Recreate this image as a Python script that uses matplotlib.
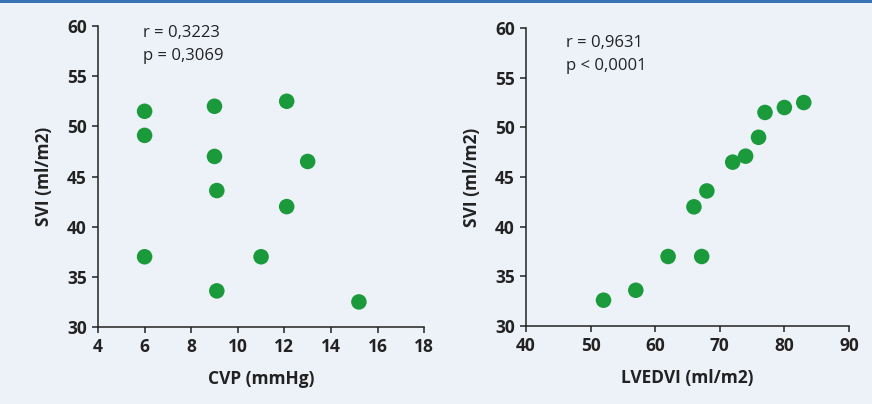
import matplotlib
matplotlib.use('Agg')
from matplotlib import pyplot as plt
from matplotlib.patches import Rectangle

# CVP vs SVI
cvp = [6, 6, 6, 9, 9, 9.1, 9.1, 11, 12.1, 12.1, 13, 15.2]
svi_cvp = [51.5, 49.1, 37, 52, 47, 43.6, 33.6, 37, 52.5, 42, 46.5, 32.5]

# LVEDVI vs SVI
lvedvi = [52, 57, 62, 67.2, 66, 68, 72, 74, 76, 77, 80, 83]
svi_lv = [32.6, 33.6, 37, 37, 42, 43.6, 46.5, 47.1, 49, 51.5, 52, 52.5]

stats_left = ["r = 0,3223", "p = 0,3069"]
stats_right = ["r = 0,9631", "p < 0,0001"]

bg = '#edf1f8'
green = '#1a9a3a'
plt.rcParams['font.family'] = ['Open Sans', 'DejaVu Sans']

fig = plt.figure(figsize=(8.72, 4.04), dpi=100, facecolor=bg)
fig.add_artist(Rectangle((0, 0.993), 1, 0.007, transform=fig.transFigure,
                         color='#3a73b5', lw=0))

ax1 = fig.add_axes([0.1124, 0.1906, 0.374, 0.745])
ax2 = fig.add_axes([0.6032, 0.1930, 0.3704, 0.7376])

def style_ax(ax):
    ax.set_facecolor(bg)
    for s in ['top', 'right']:
        ax.spines[s].set_visible(False)
    for s in ['left', 'bottom']:
        ax.spines[s].set_color('#222222')
        ax.spines[s].set_linewidth(1.1)
    ax.tick_params(direction='out', length=4, width=1.1, colors='#222222',
                   labelsize=12.5, pad=4)
    for lab in ax.get_xticklabels() + ax.get_yticklabels():
        lab.set_fontweight('bold')
    ax.set_ylabel("SVI (ml/m2)", fontsize=12.5, fontweight='bold',
                  color='#222222', labelpad=10)

ax1.scatter(cvp, svi_cvp, s=125, color=green, edgecolors='none', zorder=3, clip_on=False)
ax1.set_xlim(4, 18)
ax1.set_ylim(30, 60)
ax1.set_xticks(range(4, 19, 2))
ax1.set_yticks(range(30, 61, 5))
style_ax(ax1)
ax1.set_xlabel("CVP (mmHg)", fontsize=12.5, fontweight='bold', color='#222222', labelpad=10)
ax1.text(5.95, 59.3, stats_left[0], fontsize=12, va='center', color='#222222')
ax1.text(5.95, 57.0, stats_left[1], fontsize=12, va='center', color='#222222')

ax2.scatter(lvedvi, svi_lv, s=125, color=green, edgecolors='none', zorder=3, clip_on=False)
ax2.set_xlim(40, 90)
ax2.set_ylim(30, 60)
ax2.set_xticks(range(40, 91, 10))
ax2.set_yticks(range(30, 61, 5))
style_ax(ax2)
ax2.set_xlabel("LVEDVI (ml/m2)", fontsize=12.5, fontweight='bold', color='#222222', labelpad=10)
ax2.text(46.2, 58.5, stats_right[0], fontsize=12, va='center', color='#222222')
ax2.text(46.2, 56.2, stats_right[1], fontsize=12, va='center', color='#222222')

fig.savefig('out.png', dpi=100, facecolor=bg)
